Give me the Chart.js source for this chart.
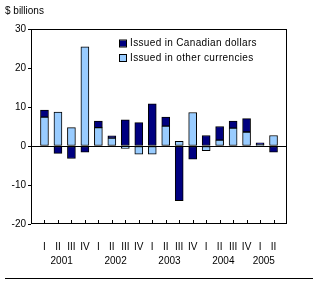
<!DOCTYPE html>
<html>
<head>
<meta charset="utf-8">
<script src="https://cdn.jsdelivr.net/npm/chart.js@4/dist/chart.umd.min.js"></script>
<style>
  html, body { margin: 0; padding: 0; background: #fff; }
  #wrap { width: 318px; height: 288px; }
</style>
</head>
<body>
<div id="wrap"><canvas id="chart" width="318" height="288"></canvas></div>
<script>
// quarters 2001 I .. 2005 II
const quarters = ['I','II','III','IV','I','II','III','IV','I','II','III','IV','I','II','III','IV','I','II'];
const years = ['2001','2002','2003','2004','2005'];
const yearSpan = [4, 4, 4, 4, 2];
const canadian = [1.8, -1.9, -3.2, -1.6, 1.7, 0.6, 6.7, 6.0, 10.8, 2.3, -14.0, -3.4, 2.7, 3.5, 1.8, 3.4, 0.4, -1.6];
const other    = [7.4, 8.7, 4.7, 25.4, 4.7, 2.0, -0.6, -2.1, -2.1, 5.1, 1.2, 8.6, -1.2, 1.5, 4.6, 3.6, 0.4, 2.7];
const seriesNames = ['Issued in Canadian dollars', 'Issued in other currencies'];
const yMin = -20, yMax = 30, yStep = 10;

const FONT = { family: '"Liberation Sans", Arial, sans-serif', size: 10 };
const DARK = '#000080', LIGHT = '#99ccff';

// frame, zero line, inward ticks, years, legend, unit label
const decor = {
    id: 'decor',
    afterDraw(c) {
        const ctx = c.ctx, ca = c.chartArea, x = c.scales.x, y = c.scales.y;
        ctx.save();
        ctx.strokeStyle = '#000';
        ctx.lineWidth = 1;
        ctx.strokeRect(ca.left + 0.5, ca.top + 0.5, ca.right - ca.left - 1, ca.bottom - ca.top - 1);

        const y0 = Math.round(y.getPixelForValue(0)) + 0.5;
        ctx.beginPath();
        ctx.moveTo(ca.left, y0); ctx.lineTo(ca.right, y0);
        for (let i = 1; i <= quarters.length; i++) {
            const px = Math.round(x.getPixelForValue(i)) + 0.5;
            ctx.moveTo(px, ca.bottom - 1); ctx.lineTo(px, ca.bottom - 4);
        }
        // rule under the chart
        ctx.moveTo(5, 278.5); ctx.lineTo(313, 278.5);
        ctx.stroke();

        ctx.fillStyle = '#000';
        ctx.font = FONT.size + 'px ' + FONT.family;
        ctx.textBaseline = 'middle';
        ctx.textAlign = 'center';
        let start = 1;
        years.forEach((yr, k) => {
            const end = start + yearSpan[k] - 1;
            const mid = (x.getPixelForValue(start) + x.getPixelForValue(end)) / 2 - 3;
            ctx.fillText(yr, mid, 261);
            start = end + 1;
        });

        ctx.textAlign = 'left';
        ctx.fillText('$ billions', 5, 11);

        // legend
        ctx.letterSpacing = '0.35px';
        c.data.datasets.slice().reverse().forEach((ds, k) => {
            const ly = 43.5 + k * 14.5;
            ctx.fillStyle = ds.backgroundColor;
            ctx.fillRect(120, ly - 3, 6, 6);
            ctx.strokeRect(119.5, ly - 3.5, 7, 7);
            ctx.fillStyle = '#000';
            ctx.fillText(ds.label, 130, ly);
        });
        ctx.restore();
    }
};

new Chart(document.getElementById('chart'), {
    type: 'bar',
    data: {
        datasets: [
            { label: seriesNames[1], data: other.map((v, i) => ({ x: i + 1, y: v })), backgroundColor: LIGHT },
            { label: seriesNames[0], data: canadian.map((v, i) => ({ x: i + 1, y: v })), backgroundColor: DARK }
        ]
    },
    options: {
        responsive: false, animation: false, devicePixelRatio: 1,
        layout: { padding: { top: 29, right: 31, left: 0, bottom: 0 } },
        datasets: { bar: { barThickness: 8, borderWidth: 1, borderColor: '#000', borderSkipped: false } },
        plugins: { legend: { display: false }, tooltip: { enabled: false } },
        scales: {
            x: {
                type: 'linear', min: 0, max: quarters.length + 1, stacked: true, offset: false,
                grid: { display: false, offset: false }, border: { display: false },
                ticks: { stepSize: 1, autoSkip: false, maxRotation: 0, padding: 9, color: '#000', font: FONT,
                         callback: v => quarters[v - 1] || '' },
                afterFit: s => { s.height = 64; }
            },
            y: {
                min: yMin, max: yMax, stacked: true,
                grid: { drawOnChartArea: false, tickLength: 3, tickColor: '#000' }, border: { display: false },
                ticks: { stepSize: yStep, padding: 2, color: '#000', font: FONT },
                afterFit: s => { s.width = 31; }
            }
        }
    },
    plugins: [decor]
});
</script>
</body>
</html>
